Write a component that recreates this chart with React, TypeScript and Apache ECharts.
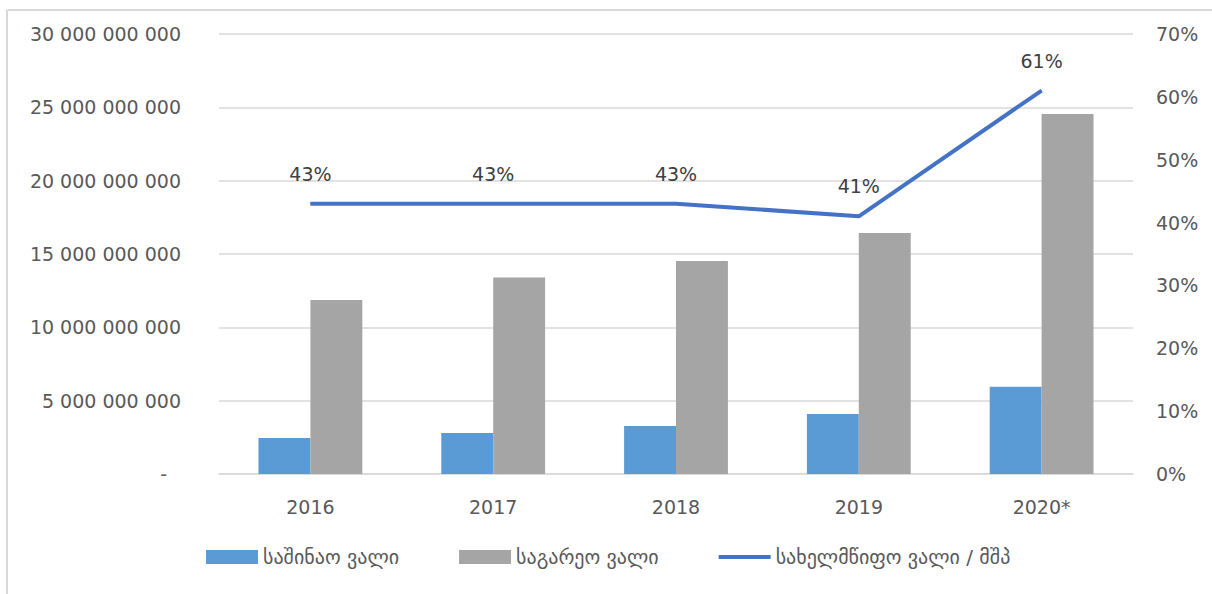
import React, { useEffect, useRef } from "react";
import * as echarts from "echarts";

const categories = ["2016", "2017", "2018", "2019", "2020*"];
const domesticDebt = [2.45e9, 2.8e9, 3.27e9, 4.09e9, 5.95e9];
const externalDebt = [11.86e9, 13.39e9, 14.52e9, 16.43e9, 24.55e9];
const debtToGdp = [0.43, 0.43, 0.43, 0.41, 0.61];
const seriesNames = ["საშინაო ვალი", "საგარეო ვალი", "სახელმწიფო ვალი / მშპ"];

const FONT = "DejaVu Sans";
const TEXT = "#595959";
const GRID = "#d9d9d9";

function fmtNum(v: number): string {
  if (v === 0) return "{dash|-}";
  return String(Math.round(v)).replace(/\B(?=(\d{3})+(?!\d))/g, " ");
}

export default function App() {
  const ref = useRef<HTMLDivElement>(null);
  useEffect(() => {
    if (!ref.current) return;
    const chart = echarts.init(ref.current, undefined, { renderer: "svg" });
    chart.setOption({
      animation: false,
      backgroundColor: "#ffffff",
      textStyle: { fontFamily: FONT },
      graphic: [
        { type: "line", shape: { x1: 7, y1: 10, x2: 1212, y2: 10 }, style: { stroke: GRID, lineWidth: 2 } },
        { type: "line", shape: { x1: 7, y1: 10, x2: 7, y2: 594 }, style: { stroke: GRID, lineWidth: 2 } },
      ],
      grid: { left: 219, right: 79, top: 34, bottom: 120, containLabel: false },
      legend: {
        left: 201,
        top: 542,
        itemWidth: 52,
        itemHeight: 14,
        itemGap: 60,
        textStyle: { fontFamily: FONT, fontSize: 20, color: TEXT },
        data: [
          { name: seriesNames[0], icon: "rect" },
          { name: seriesNames[1], icon: "rect" },
          { name: seriesNames[2], icon: "path://M0 0H52V4H0Z" },
        ],
      },
      xAxis: {
        type: "category",
        data: categories,
        axisLine: { lineStyle: { color: GRID, width: 1.5 } },
        axisTick: { show: false },
        axisLabel: { color: TEXT, fontSize: 19, fontFamily: FONT, margin: 23 },
      },
      yAxis: [
        {
          type: "value",
          min: 0,
          max: 30e9,
          interval: 5e9,
          axisLine: { show: false },
          axisTick: { show: false },
          splitLine: { lineStyle: { color: GRID, width: 1.5 } },
          axisLabel: {
            color: TEXT,
            fontSize: 19,
            fontFamily: FONT,
            margin: 38,
            formatter: fmtNum,
            rich: { dash: { padding: [0, 14, 0, 0], color: TEXT, fontSize: 19, fontFamily: FONT } },
          },
        },
        {
          type: "value",
          min: 0,
          max: 0.7,
          interval: 0.1,
          axisLine: { show: false },
          axisTick: { show: false },
          splitLine: { show: false },
          axisLabel: {
            color: TEXT,
            fontSize: 19,
            fontFamily: FONT,
            margin: 23,
            formatter: (v: number) => Math.round(v * 100) + "%",
          },
        },
      ],
      series: [
        {
          name: seriesNames[0],
          type: "bar",
          data: domesticDebt,
          barWidth: "28.4%",
          barGap: "0%",
          itemStyle: { color: "#5b9bd5" },
        },
        {
          name: seriesNames[1],
          type: "bar",
          data: externalDebt,
          barWidth: "28.4%",
          barGap: "0%",
          itemStyle: { color: "#a5a5a5" },
        },
        {
          name: seriesNames[2],
          type: "line",
          yAxisIndex: 1,
          data: debtToGdp,
          symbol: "circle",
          symbolSize: 1,
          showSymbol: true,
          itemStyle: { color: "#4472c4" },
          lineStyle: { color: "#4472c4", width: 4 },
          label: {
            show: true,
            position: "top",
            distance: 20,
            color: "#404040",
            fontSize: 19,
            fontFamily: FONT,
            formatter: (p: any) => Math.round(p.value * 100) + "%",
          },
        },
      ],
    });
    return () => chart.dispose();
  }, []);
  return <div ref={ref} style={{ position: "fixed", left: 0, top: 0, width: 1212, height: 594 }} />;
}
